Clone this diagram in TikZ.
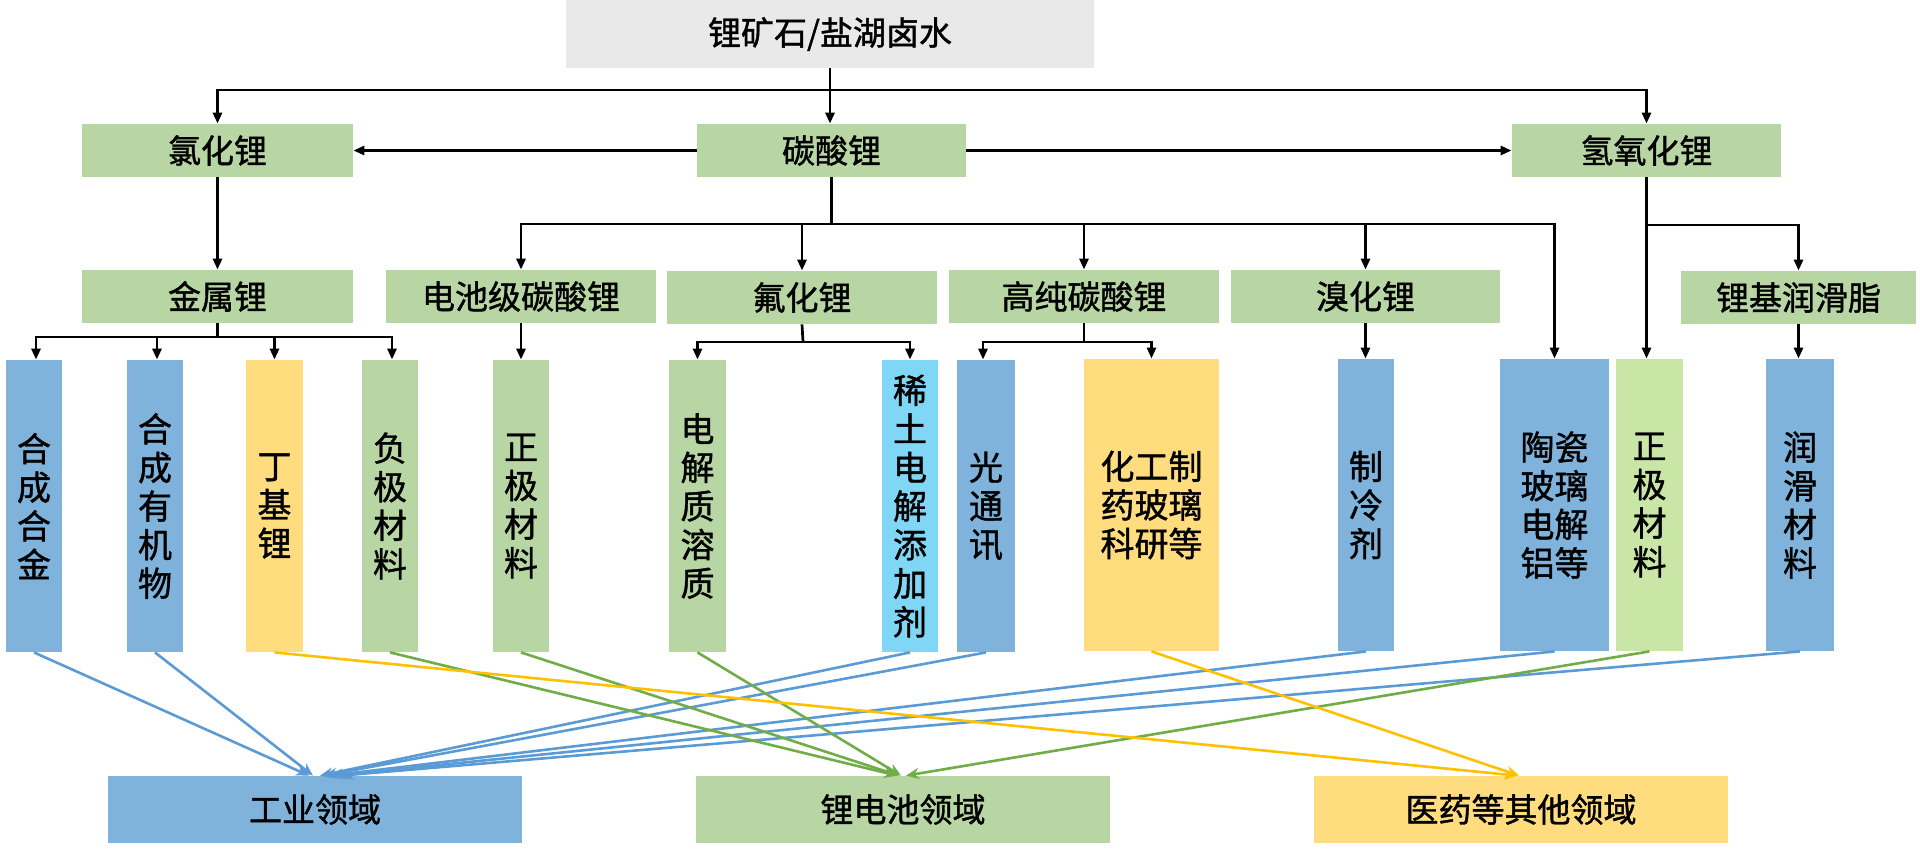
\documentclass[tikz,border=0pt]{standalone}
\usepackage{fontspec}
\newfontfamily\cjk[FakeBold=1.2]{Noto Sans CJK SC}
\usetikzlibrary{arrows.meta,calc}
\definecolor{bxgray}{HTML}{E9E9E9}
\definecolor{bxgreen}{HTML}{B8D6A4}
\definecolor{bxblue}{HTML}{7FB3DC}
\definecolor{bxyellow}{HTML}{FFDD7F}
\definecolor{bxlgreen}{HTML}{C9E6A6}
\definecolor{bxlblue}{HTML}{7FD6F5}
\definecolor{lnblue}{HTML}{5B9BD5}
\definecolor{lngreen}{HTML}{70AD47}
\definecolor{lnyellow}{HTML}{FFC000}
\tikzset{
  box/.style={draw=none, inner sep=0pt, align=center, font=\cjk\fontsize{16.5}{19}\selectfont},
  hbox/.style={box, minimum height=26.5pt},
  vbox/.style={box, minimum height=146pt, font=\cjk\fontsize{17}{19.3}\selectfont},
  bbox/.style={box, minimum width=207pt, minimum height=33.5pt},
  blk/.style={line width=1.35pt, black},
  arr/.style={blk, -{Triangle[length=5.5pt,width=4.5pt]}},
  carr/.style={line width=1.3pt, -{Stealth[length=6.5pt,width=5.5pt]}},
}
\begin{document}
\begin{tikzpicture}[x=0.5pt,y=-0.5pt]
\useasboundingbox (0,0) rectangle (1920,848);
% top
\node[box, fill=bxgray, minimum width=264pt, minimum height=34pt] (top) at (830,34) {锂矿石/盐湖卤水};
% row 1
\node[hbox, fill=bxgreen, minimum width=135.5pt] (cl) at (217.5,150.5) {氯化锂};
\node[hbox, fill=bxgreen, minimum width=134.5pt] (co) at (831.5,150.5) {碳酸锂};
\node[hbox, fill=bxgreen, minimum width=134.5pt] (oh) at (1646.5,150.5) {氢氧化锂};
% row 2
\node[hbox, fill=bxgreen, minimum width=135.5pt] (met) at (217.5,296.5) {金属锂};
\node[hbox, fill=bxgreen, minimum width=135pt] (bat) at (521,296.5) {电池级碳酸锂};
\node[hbox, fill=bxgreen, minimum width=135pt] (lif) at (802,297.5) {氟化锂};
\node[hbox, fill=bxgreen, minimum width=135pt] (hp) at (1084,296.5) {高纯碳酸锂};
\node[hbox, fill=bxgreen, minimum width=134.5pt] (br) at (1365.5,296.5) {溴化锂};
\node[hbox, fill=bxgreen, minimum width=117.5pt] (gr) at (1798.5,297.5) {锂基润滑脂};
% row 3
\node[vbox, fill=bxblue, minimum width=28pt] (a1) at (34,506) {合\\成\\合\\金};
\node[vbox, fill=bxblue, minimum width=28pt] (a2) at (155,506) {合\\成\\有\\机\\物};
\node[vbox, fill=bxyellow, minimum width=28.5pt] (a3) at (274.5,506) {丁\\基\\锂};
\node[vbox, fill=bxgreen, minimum width=28pt] (a4) at (390,506) {负\\极\\材\\料};
\node[vbox, fill=bxgreen, minimum width=28pt] (a5) at (521,506) {正\\极\\材\\料};
\node[vbox, fill=bxgreen, minimum width=28.5pt] (a6) at (697.5,506) {电\\解\\质\\溶\\质};
\node[vbox, fill=bxlblue, minimum width=28pt] (a7) at (910,506) {稀\\土\\电\\解\\添\\加\\剂};
\node[vbox, fill=bxblue, minimum width=29pt] (a8) at (986,506) {光\\通\\讯};
\node[vbox, fill=bxyellow, minimum width=67.5pt] (a9) at (1151.5,505) {化工制\\药玻璃\\科研等};
\node[vbox, fill=bxblue, minimum width=28pt] (a10) at (1366,505) {制\\冷\\剂};
\node[vbox, fill=bxblue, minimum width=54.5pt] (a11) at (1554.5,505) {陶瓷\\玻璃\\电解\\铝等};
\node[vbox, fill=bxlgreen, minimum width=33.5pt] (a12) at (1649.5,505) {正\\极\\材\\料};
\node[vbox, fill=bxblue, minimum width=34pt] (a13) at (1800,505) {润\\滑\\材\\料};
% bottom
\node[bbox, fill=bxblue] (ind) at (315,809.5) {工业领域};
\node[bbox, fill=bxgreen] (lib) at (903,809.5) {锂电池领域};
\node[bbox, fill=bxyellow] (oth) at (1521,809.5) {医药等其他领域};

% black connectors
\coordinate (t1) at (830,90);
\draw[arr] (top.south) -- (top.south |- co.north);
\draw[arr] (t1) -| (cl.north);
\draw[arr] (t1) -| (oh.north);
\draw[arr] (co.west) -- (cl.east);
\draw[arr] (co.east) -- (oh.west);
\draw[arr] (cl.south) -- (met.north);
\coordinate (t2) at (831.5,224);
\draw[blk] (co.south) -- (t2);
\draw[arr] (t2) -| (bat.north);
\draw[arr] (t2) -| (lif.north);
\draw[arr] (t2) -| (hp.north);
\draw[arr] (t2) -| (br.north);
\draw[arr] (t2) -| (a11.north);
\draw[arr] (oh.south) -- (oh.south |- a12.north);
\coordinate (t3) at (1647,225);
\draw[arr] (t3) -| (gr.north);
\draw[arr] (gr.south) -- (gr.south |- a13.north);
\coordinate (t4) at (217.5,337);
\draw[blk] (met.south) -- (t4);
\draw[arr] (t4) -| ([xshift=1pt]a1.north);
\draw[arr] (t4) -| ([xshift=1pt]a2.north);
\draw[arr] (t4) -| (a3.north);
\draw[arr] (t4) -| ([xshift=1pt]a4.north);
\draw[arr] (bat.south) -- (a5.north);
\coordinate (t5) at (803,342);
\draw[blk] (lif.south) -- (t5);
\draw[arr] (t5) -| (a6.north);
\draw[arr] (t5) -| (a7.north);
\coordinate (t6) at (1084,342);
\draw[blk] (hp.south) -- (t6);
\draw[arr] (t6) -| ([xshift=-1.5pt]a8.north);
\draw[arr] (t6) -| (a9.north);
\draw[arr] (br.south) -- (br.south |- a10.north);

% coloured connectors
\draw[carr, lnblue] (a1.south) -- ([xshift=-3pt]ind.north);
\draw[carr, lnblue] (a2.south) -- ([xshift=-1pt]ind.north);
\draw[carr, lnblue] (a7.south) -- ([xshift=2.5pt]ind.north);
\draw[carr, lnblue] (a8.south) -- ([xshift=4.5pt]ind.north);
\draw[carr, lnblue] (a10.south) -- ([xshift=7.5pt]ind.north);
\draw[carr, lnblue] (a11.south) -- ([xshift=10pt]ind.north);
\draw[carr, lnblue] (a13.south) -- ([xshift=13pt]ind.north);
\draw[carr, lngreen] (a4.south) -- ([xshift=-3pt]lib.north);
\draw[carr, lngreen] (a5.south) -- ([xshift=-2pt]lib.north);
\draw[carr, lngreen] (a6.south) -- ([xshift=-1pt]lib.north);
\draw[carr, lngreen] (a12.south) -- ([xshift=1.5pt]lib.north);
\draw[carr, lnyellow] (a3.south) -- ([xshift=-2pt]oth.north);
\draw[carr, lnyellow] (a9.south) -- ([xshift=-1pt]oth.north);
\end{tikzpicture}
\end{document}
